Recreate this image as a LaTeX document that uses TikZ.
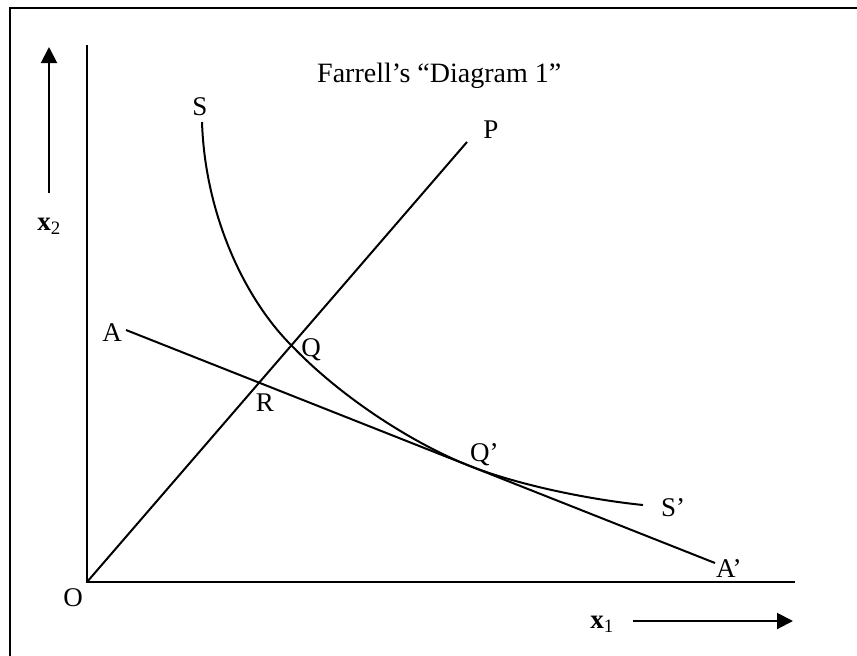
\documentclass[tikz,border=0pt]{standalone}
\usepackage{fontspec}
\setmainfont{Liberation Serif}
\usetikzlibrary{arrows.meta}
\begin{document}
\begin{tikzpicture}[x=1pt,y=-1pt,
  lbl/.style={inner sep=0pt,font=\fontsize{27}{30}\selectfont},
  curveline/.style={line width=2pt},
  axisline/.style={line width=2pt},
  framelin/.style={line width=1.5pt},
  bigarrow/.style={line width=2pt,-{Triangle[length=16pt,width=16pt]}}]
\useasboundingbox (0,0) rectangle (857,656);
% frame (only top and left visible)
\coordinate (fTL) at (10,8);
\coordinate (fTR) at (857,8);
\coordinate (fBL) at (10,656);
\draw[framelin] (fTR) -- (fTL) -- (fBL);
% axes
\coordinate (O) at (87,582);
\coordinate (ytop) at (87,45);
\coordinate (xend) at (795,582);
\draw[axisline] (ytop) -- (O) -- (xend);
% axis direction arrows
\coordinate (x2tail) at (49,193);
\coordinate (x2tip) at (49,47);
\draw[bigarrow] (x2tail) -- (x2tip);
\node[lbl] (x2) at (49,226) {{\bfseries x}\textsubscript{2}};
\coordinate (x1tail) at (633,621);
\coordinate (x1tip) at (793,621);
\draw[bigarrow] (x1tail) -- (x1tip);
\node[lbl] (x1) at (602,624) {{\bfseries x}\textsubscript{1}};
% title
\node[lbl,anchor=base west,font=\fontsize{28}{30}\selectfont] (title) at (317,82) {Farrell’s “Diagram 1”};
% labels
\node[lbl] (Olab) at (73,598) {O};
\node[lbl] (Slab) at (200,107) {S};
\node[lbl] (Plab) at (491,130) {P};
\node[lbl] (Alab) at (112,333) {A};
\node[lbl] (Qlab) at (311,350) {Q};
\node[lbl] (Rlab) at (265,403) {R};
\node[lbl,anchor=west] (Qplab) at (470,455) {Q’};
\node[lbl,anchor=west] (Splab) at (661,508) {S’};
\node[lbl,anchor=west] (Aplab) at (716,569) {A’};
% ray OP
\coordinate (Pend) at (467,142);
\draw[curveline] (O) -- (Pend);
% budget line AA'
\coordinate (Astart) at (126,330);
\coordinate (Aend) at (715,563);
\draw[curveline] (Astart) -- (Aend);
% isoquant SS'
\coordinate (Sstart) at (202,122);
\coordinate (Q) at (293,347);
\coordinate (T) at (470,466);
\coordinate (Send) at (643,505);
\draw[curveline] (Sstart) .. controls (205,215) and (245,300) .. (Q)
  .. controls (343,399) and (415,444.4) .. (T)
  .. controls (520,485.8) and (593,500) .. (Send);
\end{tikzpicture}
\end{document}
